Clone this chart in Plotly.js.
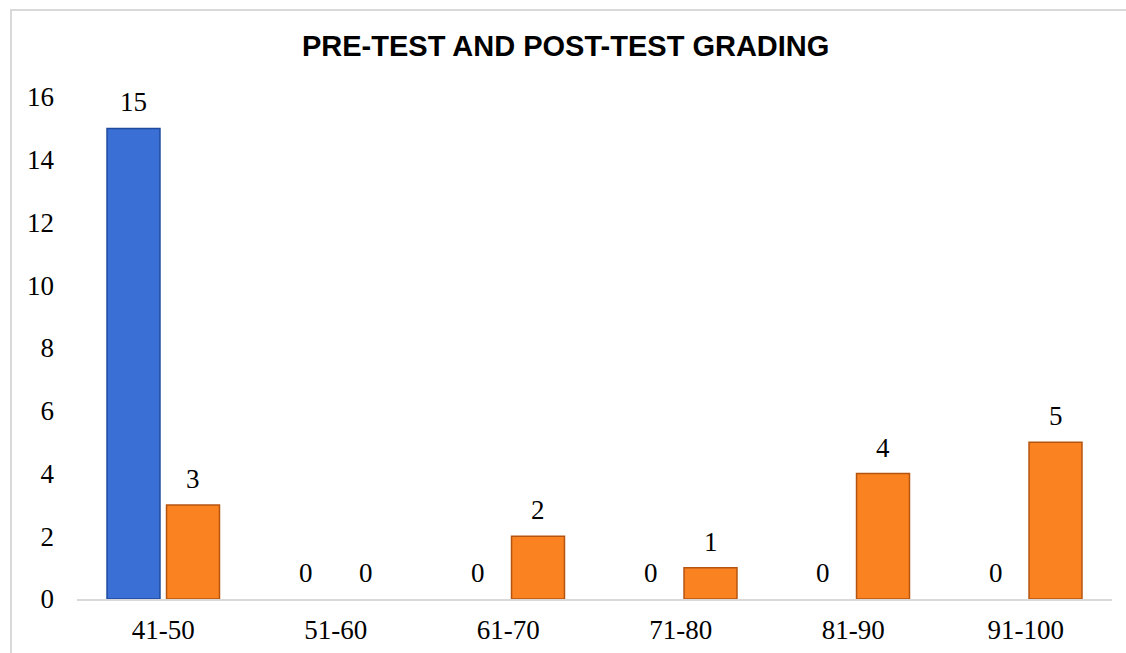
<!DOCTYPE html>
<html>
<head>
<meta charset="utf-8">
<script src="https://cdn.plot.ly/plotly-3.0.1.min.js"></script>
<style>
html,body{margin:0;padding:0;background:#fff;overflow:hidden;}
#wrap{position:absolute;left:10px;top:9px;border-top:2px solid #d9d9d9;border-left:2px solid #d9d9d9;}
#chart{width:1114px;height:642px;}
</style>
</head>
<body>
<div id="wrap"><div id="chart"></div></div>
<script>
const categories = ["41-50","51-60","61-70","71-80","81-90","91-100"];
const preTest = [15,0,0,0,0,0];
const postTest = [3,0,2,1,4,5];
const yTicks = [0,2,4,6,8,10,12,14,16];
const chartTitle = "PRE-TEST AND POST-TEST GRADING";

const serif = "Liberation Serif";
const BARGAP = 0.31;
const edge = v => v.map(d => d === 0 ? 0 : 1.5);
const traces = [
  {
    type: "bar", name: "Pre-test", x: categories, y: preTest,
    marker: {color: "#3a6fd6", line: {color: "#1f4a9e", width: edge(preTest)}}
  },
  {
    type: "bar", name: "Post-test", x: categories, y: postTest,
    marker: {color: "#fb8220", line: {color: "#b5540f", width: edge(postTest)}}
  }
];

// data labels as annotations placed on the category axis (index ± half a bar slot)
const slot = (1 - BARGAP) / 2;
const labels = [];
[[preTest, -slot / 2], [postTest, slot / 2]].forEach(([vals, off]) => {
  vals.forEach((v, i) => {
    labels.push({
      x: i + off, y: v, xref: "x", yref: "y",
      text: String(v), showarrow: false,
      xanchor: "center", yanchor: "bottom", yshift: 9,
      font: {family: serif, size: 27, color: "#000"}
    });
  });
});

const layout = {
  width: 1114, height: 642,
  margin: {l: 65, r: 14, t: 86, b: 54},
  paper_bgcolor: "#fff", plot_bgcolor: "#fff",
  showlegend: false,
  barmode: "group", bargap: BARGAP, bargroupgap: 0.11,
  title: {
    text: "<b>" + chartTitle + "</b>",
    font: {family: "Liberation Sans", size: 29, color: "#000"},
    x: 0.497, xref: "container", xanchor: "center",
    y: 1 - 35/642, yref: "container", yanchor: "middle"
  },
  xaxis: {
    type: "category", showgrid: false, zeroline: false,
    showline: true, linecolor: "#d9d9d9", linewidth: 2,
    ticks: "", ticklabelstandoff: 6,
    tickfont: {family: serif, size: 27, color: "#000"}
  },
  yaxis: {
    range: [0, 16], tickvals: yTicks, ticktext: yTicks.map(String),
    showgrid: false, zeroline: false, showline: false,
    ticks: "", ticklabelstandoff: 22,
    tickfont: {family: serif, size: 27, color: "#000"}
  },
  annotations: labels,
  font: {family: serif}
};

Plotly.newPlot("chart", traces, layout, {displayModeBar: false, staticPlot: true});
</script>
</body>
</html>
